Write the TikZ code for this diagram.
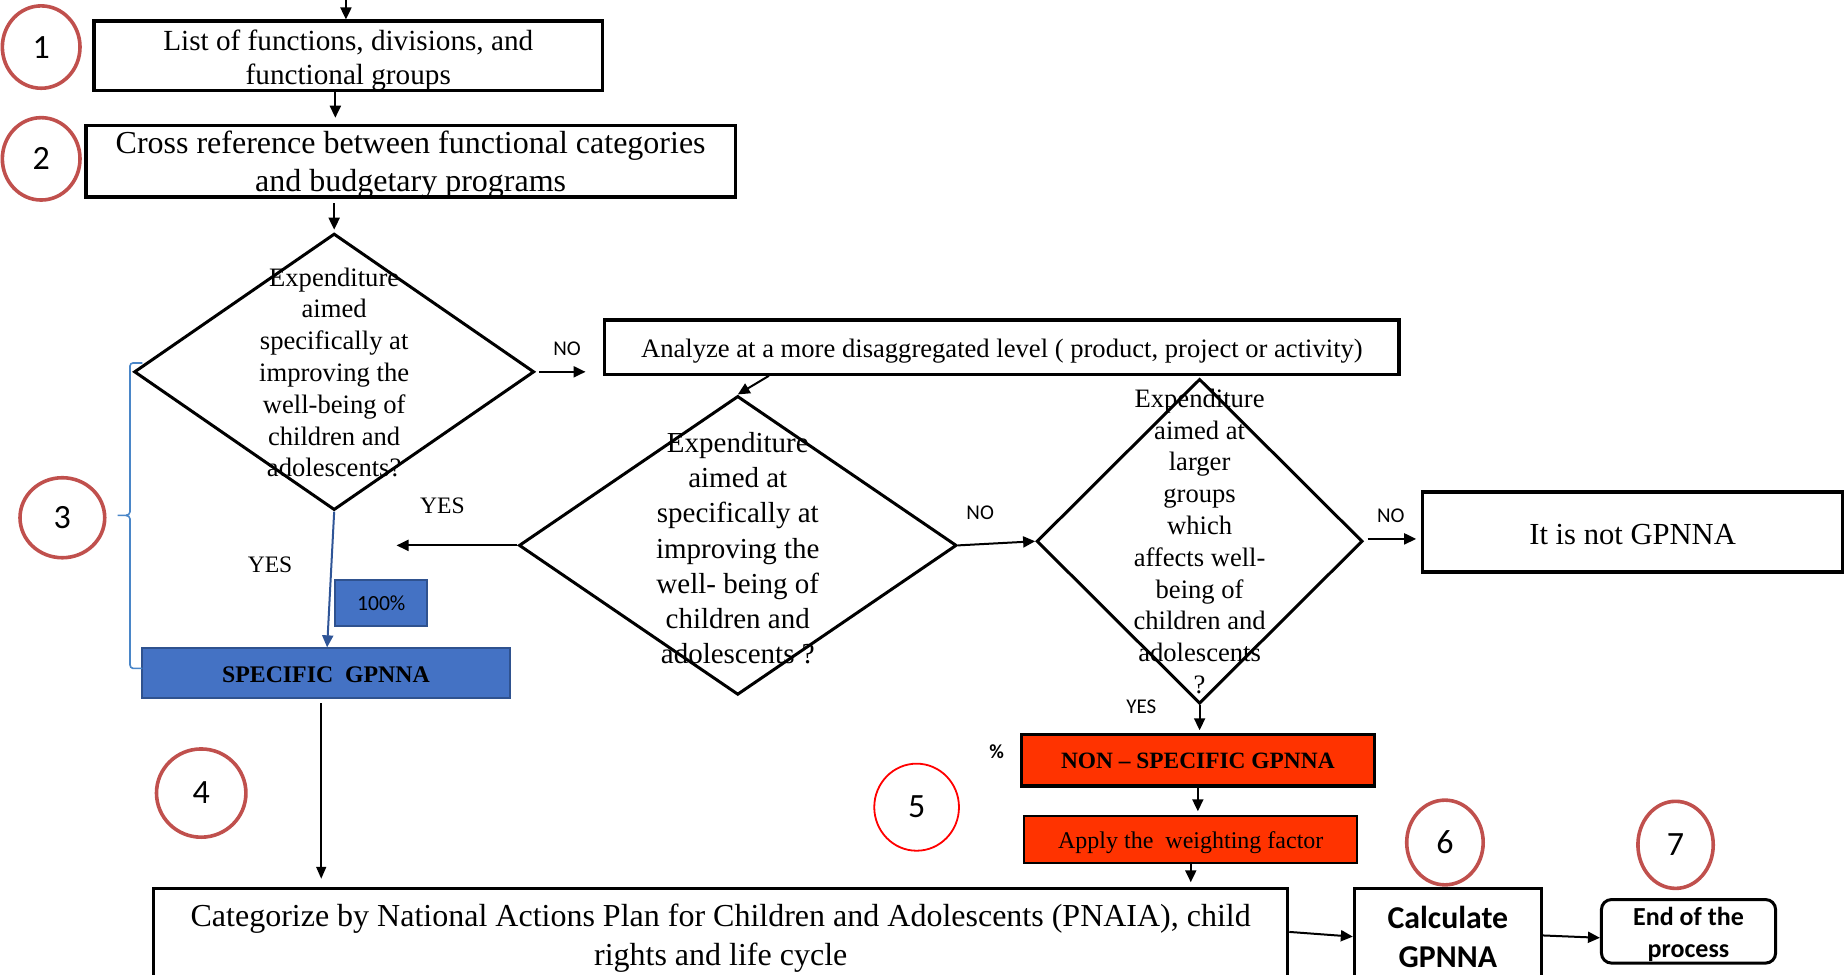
\documentclass[tikz,border=0pt]{standalone}
\usepackage{fontspec}
\setmainfont{Liberation Serif}
\newfontfamily\calib{Carlito}
\usetikzlibrary{arrows.meta,shapes.geometric}
\def\U{0.58835pt}
\definecolor{circc}{HTML}{C0504D}
\definecolor{bluefill}{HTML}{4472C4}
\definecolor{blueedge}{HTML}{2F528F}
\definecolor{bluearrow}{HTML}{2F5597}
\definecolor{bracec}{HTML}{4A86C8}
\definecolor{redfill}{HTML}{FF3300}
\newcommand{\fs}[2]{\fontsize{#1}{#2}\selectfont}
\begin{document}
\begin{tikzpicture}[x=\U,y=-\U,
  box/.style={draw=black,line width=1.7pt,fill=white,inner sep=0pt,align=center},
  txt/.style={align=center,inner sep=0pt},
  dia/.style={diamond,draw=black,line width=1.5pt,inner sep=0pt},
  circ/.style={ellipse,draw=circc,line width=1.8pt,inner sep=0pt,font=\calib\fs{17}{20}},
  arr/.style={line width=1pt,-{Triangle[length=6pt,width=5.5pt]}},
  thinarr/.style={line width=0.8pt,-{Triangle[length=6pt,width=5pt]}},
  bluearr/.style={draw=bluearrow,line width=1pt,-{Triangle[length=6pt,width=5.5pt]}},
  lbl/.style={font=\calib\fs{10.5}{12},inner sep=0pt},
  slbl/.style={font=\fs{11.8}{14},inner sep=0pt},
  bluebox/.style={draw=blueedge,line width=1pt,fill=bluefill,inner sep=0pt,align=center},
  redbox/.style={draw=black,line width=1.6pt,fill=redfill,inner sep=0pt,align=center}
]
\useasboundingbox (0,0) rectangle (1568,828);
\clip (0,0) rectangle (1568,828);

% numbered circles
\node[circ,minimum width=66*\U,minimum height=70*\U] (c1) at (35,40) {1};
\node[circ,minimum width=66*\U,minimum height=70*\U] (c2) at (35,135) {2};
\node[circ,minimum width=72*\U,minimum height=68*\U] (c3) at (53,440) {3};
\node[circ,minimum width=76*\U,minimum height=75*\U] (c4) at (171,674) {4};
\node[ellipse,draw=red,line width=0.9pt,inner sep=0pt,font=\calib\fs{17}{20},minimum width=72*\U,minimum height=74*\U] (c5) at (779,686) {5};
\node[circ,minimum width=65*\U,minimum height=72*\U] (c6) at (1228,716) {6};
\node[circ,minimum width=64*\U,minimum height=74*\U] (c7) at (1424,718) {7};

% boxes
\node[box,minimum width=432*\U,minimum height=59*\U] (b1) at (296,47.5) {};
\node[txt,font=\fs{14.6}{17}] (b1t) at (296,51) {List of functions, divisions, and\\functional groups};
\node[box,minimum width=552*\U,minimum height=61*\U] (b2) at (349,137) {};
\node[txt,font=\fs{16}{19.4}] (b2t) at (349,140) {Cross reference between functional categories\\and budgetary programs};
\node[box,line width=1.6pt,minimum width=675*\U,minimum height=46*\U] (an) at (851.5,295) {};
\node[txt,font=\fs{13.3}{16}] (ant) at (851.5,298) {Analyze at a more disaggregated level ( product, project or activity)};
\node[box,minimum width=357*\U,minimum height=68*\U] (ng) at (1387.5,452) {};
\node[txt,font=\fs{15.3}{18}] (ngt) at (1387.5,454) {It is not GPNNA};

\node[redbox,minimum width=300*\U,minimum height=44*\U] (ns) at (1018,646) {};
\node[txt,font=\bfseries\fs{11.7}{14}] (nst) at (1018,647) {NON -- SPECIFIC GPNNA};
\node[redbox,line width=1.2pt,minimum width=283*\U,minimum height=40*\U] (ap) at (1012,713.5) {};
\node[txt,font=\fs{12}{14}] (apt) at (1012,716.5) {Apply the \ weighting factor};

\node[bluebox,minimum width=313*\U,minimum height=42*\U] (sp) at (277,572) {};
\node[txt,font=\bfseries\fs{11.9}{14}] (spt) at (277,573.5) {SPECIFIC \ GPNNA};
\node[bluebox,minimum width=78*\U,minimum height=39*\U,font=\calib\fs{10.8}{12}] (pc) at (324,512.5) {100\%};

\node[box,line width=1.4pt,minimum width=964*\U,minimum height=86*\U] (cat) at (612.5,798) {};
\node[txt,font=\fs{16}{19.4}] (catt) at (612.5,797.5) {Categorize by National Actions Plan for Children and Adolescents (PNAIA), child\\rights and life cycle};
\node[box,line width=1.5pt,minimum width=159*\U,minimum height=86*\U] (calc) at (1230.5,798) {};
\node[txt,font=\calib\bfseries\fs{15.9}{19.4}] (calct) at (1230.5,796) {Calculate\\GPNNA};
\node[box,line width=1.5pt,rounded corners=5pt,minimum width=148*\U,minimum height=54*\U] (en) at (1435,791.5) {};
\node[txt,font=\calib\bfseries\fs{13}{16}] (ent) at (1435,794) {End of the\\process};

% diamonds
\node[dia,minimum width=340*\U,minimum height=235*\U] (d1) at (284,316) {};
\node[txt,font=\fs{13.3}{15.9}] (d1t) at (284,316.5) {Expenditure\\aimed\\specifically at\\improving the\\well-being of\\children and\\adolescents?};
\node[dia,minimum width=372*\U,minimum height=254*\U] (d2) at (627,463.5) {};
\node[txt,font=\fs{14.5}{17.6}] (d2t) at (627,466) {Expenditure\\aimed at\\specifically at\\improving the\\well- being of\\children and\\adolescents ?};
\node[dia,minimum width=277*\U,minimum height=276*\U] (d3) at (1019.5,460) {};
\node[txt,font=\fs{13.3}{15.9}] (d3t) at (1019.5,460) {Expenditure\\aimed at\\larger\\groups\\which\\affects well-\\being of\\children and\\adolescents\\?};

% labels
\node[lbl] (no1) at (482,296) {NO};
\node[lbl] (no2) at (833,436) {NO};
\node[lbl] (no3) at (1182,438) {NO};
\node[slbl] (yes1) at (229.5,480) {YES};
\node[slbl] (yes2) at (376,430) {YES};
\node[lbl] (yes3) at (970,601) {YES};
\node[font=\calib\bfseries\fs{10}{12},inner sep=0pt] (pct) at (847,639) {\%};

% connectors
\coordinate (topin) at (294,0);
\draw[arr] (topin) -- (topin |- b1.north);
\coordinate (c12) at (285,0);
\draw[arr] (b1.south -| c12) -- ([yshift=5*\U]b2.north -| c12);
\draw[arr,shorten <=4*\U,shorten >=2*\U] (b2.south -| d1.north) -- (d1.north);
\draw[arr,shorten <=3*\U,shorten >=15*\U] (d1.east) -- (d1.east -| an.west);
\draw[arr] ([xshift=-198*\U]an.south) -- (d2.north);
\coordinate (yesend) at (337,463.5);
\draw[arr] (d2.west) -- (yesend);
\draw[arr] (d2.east) -- (d3.west);
\draw[arr,shorten <=3*\U,shorten >=4*\U] ([yshift=2*\U]d3.east) -- ([yshift=2*\U]d3.east -| ng.west);
\draw[arr,shorten >=2*\U] (d3.south) -- (d3.south |- ns.north);
\draw[arr,shorten >=3*\U] (ns.south) -- (ns.south |- ap.north);
\draw[arr,shorten >=4*\U] (ap.south) -- (ap.south |- cat.north);
\draw[bluearr] (d1.south) -- ([xshift=1*\U]sp.north);
\draw[thinarr,shorten <=4*\U,shorten >=7*\U] ([xshift=-4*\U]sp.south) -- ([xshift=-4*\U]sp.south |- cat.north);
\draw[arr] ([yshift=6*\U]cat.east) -- ([yshift=2*\U]calc.west);
\draw[arr] ([yshift=3*\U]calc.east) -- ([yshift=-5.5*\U]en.west);

% blue bracket
\draw[draw=bracec,line width=0.8pt] (121,308.5) -- (113,308.5) to[out=180,in=90] (110.5,311) -- (110.5,435) to[out=270,in=0] (107,438) -- (100,438);
\draw[draw=bracec,line width=0.8pt] (107,438) to[out=0,in=90] (110.5,441) -- (110.5,565) to[out=270,in=180] (113,568) -- (121,568);
\end{tikzpicture}
\end{document}
